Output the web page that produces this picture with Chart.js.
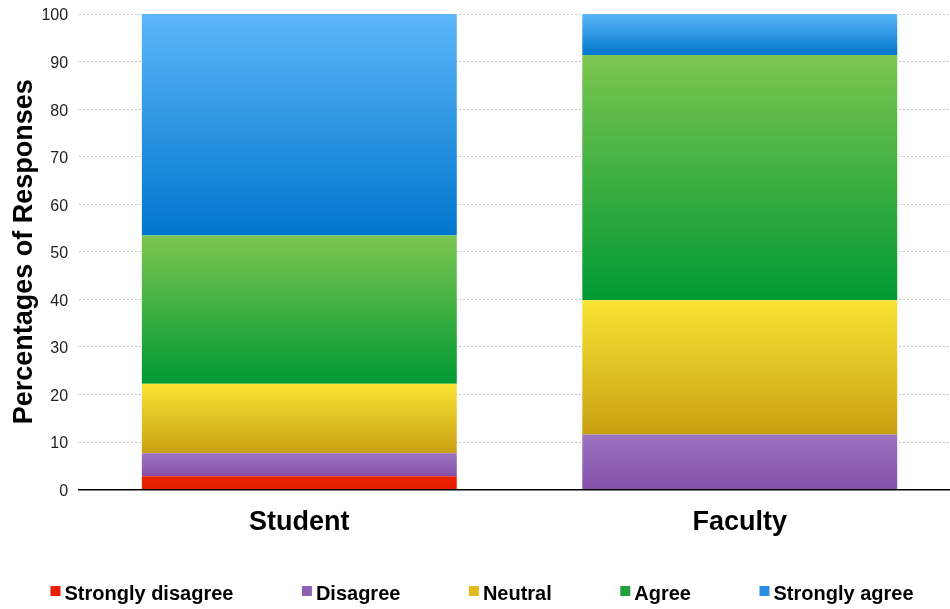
<!DOCTYPE html>
<html>
<head>
<meta charset="utf-8">
<script src="https://cdn.jsdelivr.net/npm/chart.js@4"></script>
<style>
  html, body { margin: 0; background: #fff; overflow: hidden; }
  #wrap { width: 950px; height: 609px; overflow: hidden; }
</style>
</head>
<body>
<div id="wrap"><canvas id="surveyChart" width="960" height="609"></canvas></div>
<script>
// Data
const groups = ['Student', 'Faculty'];
const stronglyDisagree = [2.8, 0];
const disagree = [4.85, 11.6];
const neutral = [14.6, 28.2];
const agree = [31.2, 51.6];
const stronglyAgree = [46.55, 8.6];
const yTicks = [0, 10, 20, 30, 40, 50, 60, 70, 80, 90, 100];

const seriesList = [stronglyDisagree, disagree, neutral, agree, stronglyAgree];
const names = ['Strongly disagree', 'Disagree', 'Neutral', 'Agree', 'Strongly agree'];
// gradient top / bottom colours per series
const shades = [
    ['#ea2200', '#e61e00'],
    ['#9c74c2', '#8550a8'],
    ['#f9e434', '#c8a012'],
    ['#7cc650', '#009933'],
    ['#5cb6fa', '#0076cc']
];
const keyColors = ['#e82000', '#9060b4', '#e2bc1e', '#1fa23c', '#2a8ee6'];
const FONT = 'Liberation Sans, Arial, Helvetica, sans-serif';

function segmentFill(seriesIdx) {
    return function (ctx) {
        const chart = ctx.chart;
        const y = chart.scales.y;
        if (!y || ctx.dataIndex === undefined) return shades[seriesIdx][1];
        let start = 0;
        for (let s = 0; s < seriesIdx; s++) start += seriesList[s][ctx.dataIndex];
        const top = y.getPixelForValue(start + seriesList[seriesIdx][ctx.dataIndex]);
        const bottom = y.getPixelForValue(start);
        if (!isFinite(top) || !isFinite(bottom) || top === bottom) return shades[seriesIdx][1];
        const g = chart.ctx.createLinearGradient(0, top, 0, bottom);
        g.addColorStop(0, shades[seriesIdx][0]);
        g.addColorStop(1, shades[seriesIdx][1]);
        return g;
    };
}

// legend row under the chart, tight box/text spacing like the original
const bottomKey = {
    id: 'bottomKey',
    afterDraw(chart) {
        const c = chart.ctx;
        c.save();
        c.font = 'bold 20px ' + FONT;
        c.textBaseline = 'middle';
        const box = 10, gap = 4, spacing = 68.5;
        const widths = names.map(n => c.measureText(n).width);
        const total = widths.reduce((a, w) => a + box + gap + w, 0) + spacing * (names.length - 1);
        let x = 482 - total / 2;
        const cy = 594;
        names.forEach((n, i) => {
            c.fillStyle = keyColors[i];
            c.fillRect(x, cy - 8, box, box);
            c.fillStyle = '#000';
            c.fillText(n, x + box + gap, cy);
            x += box + gap + widths[i] + spacing;
        });
        c.restore();
    }
};

new Chart(document.getElementById('surveyChart'), {
    type: 'bar',
    data: {
        labels: groups,
        datasets: seriesList.map((vals, i) => ({
            label: names[i],
            data: vals,
            backgroundColor: segmentFill(i),
            borderWidth: 0,
            categoryPercentage: 1.0,
            barPercentage: 0.715
        }))
    },
    plugins: [bottomKey],
    options: {
        responsive: false,
        animation: false,
        layout: { padding: { top: 14, right: 0, left: 8, bottom: 61 } },
        scales: {
            x: {
                stacked: true,
                grid: { display: false },
                border: { display: true, color: '#000', width: 1.5 },
                ticks: {
                    color: '#000',
                    padding: 9,
                    font: { family: FONT, size: 27, weight: 'bold' }
                }
            },
            y: {
                stacked: true,
                min: 0,
                max: 100,
                afterBuildTicks: axis => { axis.ticks = yTicks.map(v => ({ value: v })); },
                afterFit: axis => { axis.paddingTop = 0; },
                grid: { color: '#c8c8c8', lineWidth: 1, drawTicks: false },
                border: { display: false, dash: [2, 2] },
                ticks: {
                    color: '#222',
                    padding: 11,
                    labelOffset: 2,
                    font: { family: FONT, size: 16 }
                },
                title: {
                    display: true,
                    text: 'Percentages of Responses',
                    color: '#000',
                    padding: { top: 0, bottom: -10 },
                    font: { family: FONT, size: 27, weight: 'bold' }
                }
            }
        },
        plugins: {
            tooltip: { enabled: false },
            legend: { display: false }
        }
    }
});
</script>
</body>
</html>
